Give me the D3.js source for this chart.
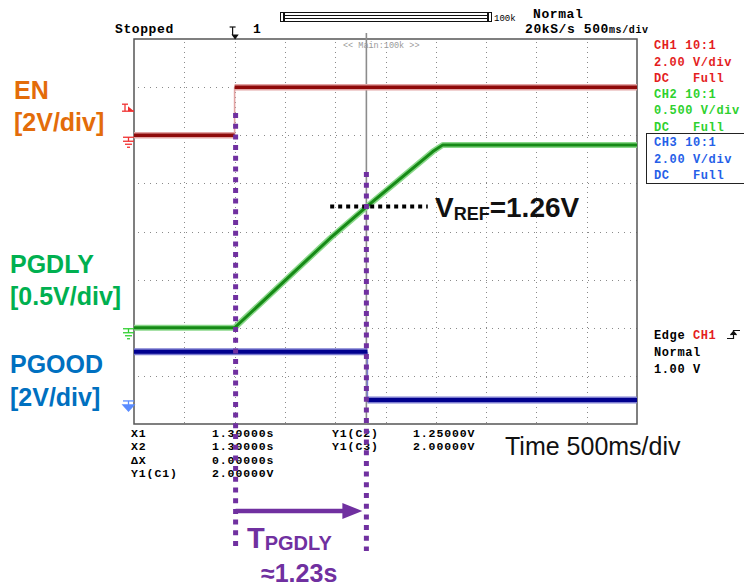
<!DOCTYPE html>
<html>
<head>
<meta charset="utf-8">
<script src="https://cdn.jsdelivr.net/npm/d3@7"></script>
<style>
  html, body { margin: 0; padding: 0; background: #fff; }
  svg { display: block; }
  .mono { font-family: "Liberation Mono", "DejaVu Sans Mono", monospace; font-weight: bold; font-size: 12px; letter-spacing: 0.6px; white-space: pre; }
  .sans { font-family: "Liberation Sans", Arial, sans-serif; }
</style>
</head>
<body>
<svg id="chart" width="744" height="588"></svg>
<script>
// Time base: 500 ms/div, 10 divisions, trigger at 0 s
const timeDomain = [-1.0, 4.0];
const timeGrid = [-0.5, 0.0, 0.5, 1.0, 1.5, 2.0, 2.5, 3.0, 3.5];
const divGrid = [1, 2, 3, 4, 5, 6, 7];

// Channel settings: volts per division and ground offset (in divisions from bottom)
const ch1Scale = 2.0, ch1Offset = 6.0;   // EN
const ch2Scale = 0.5, ch2Offset = 2.0;   // PGDLY
const ch3Scale = 2.0, ch3Offset = 0.5;   // PGOOD

// EN (CH1)
const enTime = [-1.0, 0.0, 0.0, 4.0];
const enVolt = [0.0, 0.0, 2.0, 2.0];
// PGDLY (CH2)
const pgdlyTime = [-1.0, 0.0, 0.95, 1.31, 1.97, 2.07, 4.0];
const pgdlyVolt = [0.0, 0.0, 0.93, 1.255, 1.83, 1.90, 1.90];
// PGOOD (CH3)
const pgoodTime = [-1.0, 1.32, 1.32, 4.0];
const pgoodVolt = [2.0, 2.0, 0.0, 0.0];

// Cursors and annotations
const cursorTimes = [0.01, 1.31];
const vref = 1.26;
const vrefSpan = [0.95, 1.92];
const trigLevel = 1.0;

// Readouts
const chInfo = [
  { lines: ["CH1 10:1", "2.00 V/div", "DC   Full"], color: "#e41e1e" },
  { lines: ["CH2 10:1", "0.500 V/div", "DC   Full"], color: "#2ed12e" },
  { lines: ["CH3 10:1", "2.00 V/div", "DC   Full"], color: "#2560e8" }
];
const cursorRows = [
  ["X1", "1.30000s", "Y1(C2)", "1.25000V"],
  ["X2", "1.30000s", "Y1(C3)", "2.00000V"],
  ["\u0394X", "0.00000s", "", ""],
  ["Y1(C1)", "2.00000V", "", ""]
];

const svg = d3.select("#chart");
const plot = { left: 134, right: 637, top: 39, bottom: 424 };

const x = d3.scaleLinear().domain(timeDomain).range([plot.left, plot.right]);
const y = d3.scaleLinear().domain([0, 8]).range([plot.bottom, plot.top]);
const yCh = (offset, scale) => v => y(offset + v / scale);
const y1 = yCh(ch1Offset, ch1Scale), y2 = yCh(ch2Offset, ch2Scale), y3 = yCh(ch3Offset, ch3Scale);

// Grid
const grid = svg.append("g").attr("stroke", "#8a8a8a").attr("stroke-width", 1);
grid.selectAll("line.v").data(timeGrid).join("line")
  .attr("x1", d => Math.round(x(d)) + 0.5).attr("x2", d => Math.round(x(d)) + 0.5)
  .attr("y1", plot.top + 3).attr("y2", plot.bottom)
  .attr("stroke-dasharray", "1,4");
grid.selectAll("line.h").data(divGrid).join("line")
  .attr("x1", plot.left + 4).attr("x2", plot.right)
  .attr("y1", d => Math.round(y(d)) + 0.5).attr("y2", d => Math.round(y(d)) + 0.5)
  .attr("stroke-dasharray", "1,5");

// Frame
svg.append("rect").attr("x", plot.left).attr("y", plot.top)
  .attr("width", plot.right - plot.left).attr("height", plot.bottom - plot.top)
  .attr("fill", "none").attr("stroke", "#555").attr("stroke-width", 1.5);

// Main-window marker line
svg.append("line").attr("x1", x(cursorTimes[1])).attr("x2", x(cursorTimes[1]))
  .attr("y1", plot.top - 6).attr("y2", plot.bottom)
  .attr("stroke", "#8c8c8c").attr("stroke-width", 1.6);
svg.append("text").attr("x", 343).attr("y", 48).attr("class", "mono")
  .style("font-size", "8.5px").style("font-weight", "normal").style("letter-spacing", "0px")
  .attr("fill", "#9a9a9a").text("<< Main:100k >>");

// Traces: level/ramp runs drawn thick, vertical edges drawn thin
function trace(times, volts, yf, core, halo, w) {
  const pts = times.map((t, i) => [x(t), yf(volts[i])]);
  const runs = [];
  const edges = [];
  let run = [pts[0]];
  for (let i = 1; i < pts.length; i++) {
    if (times[i] === times[i - 1]) {
      edges.push([pts[i - 1], pts[i]]);
      runs.push(run);
      run = [pts[i]];
    } else {
      run.push(pts[i]);
    }
  }
  runs.push(run);
  const line = d3.line();
  edges.forEach(e => {
    svg.append("path").attr("d", line(e)).attr("fill", "none")
      .attr("stroke", halo).attr("stroke-width", 1.6);
  });
  runs.filter(r => r.length > 1).forEach(r => {
    svg.append("path").attr("d", line(r)).attr("fill", "none")
      .attr("stroke", halo).attr("stroke-width", w + 3).attr("stroke-linejoin", "round");
  });
  runs.filter(r => r.length > 1).forEach(r => {
    svg.append("path").attr("d", line(r)).attr("fill", "none")
      .attr("stroke", core).attr("stroke-width", w).attr("stroke-linejoin", "round");
  });
}
trace(enTime, enVolt, y1, "#8f0a0a", "#e2a4a4", 3.5);
trace(pgdlyTime, pgdlyVolt, y2, "#168a16", "#8ad88a", 3);
trace(pgoodTime, pgoodVolt, y3, "#00008f", "#7c7cd0", 4);

// Channel markers on the left edge
function ground(cy, color, filled) {
  const g = svg.append("g").attr("stroke", color).attr("stroke-width", 1.3).attr("fill", "none");
  g.append("line").attr("x1", 123).attr("x2", 134).attr("y1", cy).attr("y2", cy);
  g.append("line").attr("x1", 128.5).attr("x2", 128.5).attr("y1", cy).attr("y2", cy + 4);
  if (filled) {
    g.append("path").attr("d", `M123,${cy + 4}L134,${cy + 4}L128.5,${cy + 10}Z`).attr("fill", color);
  } else {
    g.append("line").attr("x1", 123).attr("x2", 134).attr("y1", cy + 4).attr("y2", cy + 4);
    g.append("line").attr("x1", 125).attr("x2", 132).attr("y1", cy + 7).attr("y2", cy + 7);
    g.append("line").attr("x1", 127).attr("x2", 130).attr("y1", cy + 10).attr("y2", cy + 10);
  }
}
ground(y1(0) + 2, "#f03030", false);
ground(y2(0) + 1, "#30d030", false);
ground(y3(0) + 1, "#5a8cff", true);
// CH1 trigger level marker
{
  const ty = y1(trigLevel);
  const g = svg.append("g").attr("stroke", "#f03030").attr("stroke-width", 1.3);
  g.append("line").attr("x1", 122).attr("x2", 128).attr("y1", ty - 7).attr("y2", ty - 7);
  g.append("line").attr("x1", 125).attr("x2", 125).attr("y1", ty - 7).attr("y2", ty);
  g.append("line").attr("x1", 122).attr("x2", 134).attr("y1", ty).attr("y2", ty);
  g.append("path").attr("d", `M128,${ty - 5}L134,${ty}L128,${ty}Z`).attr("fill", "#f03030").attr("stroke", "none");
}

// Top status bar
svg.append("text").attr("class", "mono").attr("x", 115).attr("y", 33).style("font-size", "13px").text("Stopped");
svg.append("text").attr("class", "mono").attr("x", 253).attr("y", 33).style("font-size", "13px").text("1");
{
  const tx = x(0) - 1;
  const g = svg.append("g").attr("stroke", "#111").attr("stroke-width", 1.2).attr("fill", "none");
  g.append("line").attr("x1", tx - 4).attr("x2", tx + 2).attr("y1", 27).attr("y2", 27);
  g.append("line").attr("x1", tx - 1).attr("x2", tx - 1).attr("y1", 27).attr("y2", 35);
  g.append("path").attr("d", `M${tx - 1},35L${tx + 4},35L${tx + 1.5},38.5Z`).attr("fill", "#111");
}
{
  const g = svg.append("g").attr("stroke", "#111").attr("stroke-width", 1).attr("fill", "none");
  g.append("rect").attr("x", 280.5).attr("y", 12.5).attr("width", 3).attr("height", 9);
  g.append("rect").attr("x", 284.5).attr("y", 12.5).attr("width", 203).attr("height", 9);
  g.append("rect").attr("x", 284.5).attr("y", 15.5).attr("width", 203).attr("height", 3);
  g.append("rect").attr("x", 488.5).attr("y", 12.5).attr("width", 3).attr("height", 9);
}
svg.append("text").attr("class", "mono").attr("x", 494).attr("y", 21)
  .style("font-size", "9px").style("font-weight", "normal").style("letter-spacing", "0px").text("100k");
svg.append("text").attr("class", "mono").attr("x", 533).attr("y", 18).style("font-size", "13px").text("Normal");
{
  const t = svg.append("text").attr("class", "mono").attr("x", 525).attr("y", 33).style("font-size", "13px");
  t.append("tspan").text("20kS/s 500");
  t.append("tspan").style("font-size", "10px").text("ms/div");
}

// Right-hand channel panel
chInfo.forEach((c, i) => {
  c.lines.forEach((s, j) => {
    svg.append("text").attr("class", "mono").attr("x", 654)
      .attr("y", 49 + i * 48.5 + j * 16.5).attr("fill", c.color).text(s);
  });
});
svg.append("rect").attr("x", 646.5).attr("y", 133.5).attr("width", 100).attr("height", 50)
  .attr("fill", "none").attr("stroke", "#222").attr("stroke-width", 1);

// Trigger info
{
  const t = svg.append("text").attr("class", "mono").attr("x", 654).attr("y", 339);
  t.append("tspan").text("Edge ");
  t.append("tspan").attr("fill", "#e41e1e").text("CH1");
  svg.append("text").attr("class", "mono").attr("x", 654).attr("y", 356).text("Normal");
  svg.append("text").attr("class", "mono").attr("x", 654).attr("y", 373).text("1.00 V");
  const g = svg.append("g").attr("stroke", "#111").attr("stroke-width", 1.2).attr("fill", "none");
  g.append("path").attr("d", "M727,338.5L733.5,338.5L733.5,330.5L740,330.5");
  g.append("path").attr("d", "M730.5,335L733.5,331.5L736.5,335").attr("fill", "#111");
}

// Cursor readouts
const colX = [131, 212, 332, 413];
cursorRows.forEach((row, i) => {
  row.forEach((s, j) => {
    if (!s) return;
    svg.append("text").attr("class", "mono").attr("x", colX[j]).attr("y", 437 + i * 13.4)
      .style("font-size", "11.5px").style("letter-spacing", "0.9px").text(s);
  });
});

// Time base label
svg.append("text").attr("class", "sans").attr("x", 505).attr("y", 455)
  .style("font-size", "25px").attr("fill", "#111").text("Time 500ms/div");

// Channel labels
const labels = [
  { t: ["EN", "[2V/div]"], x: 14, y: [99, 131], c: "#e36c0a" },
  { t: ["PGDLY", "[0.5V/div]"], x: 10, y: [273, 305], c: "#00b050" },
  { t: ["PGOOD", "[2V/div]"], x: 10, y: [373, 406], c: "#0070c0" }
];
labels.forEach(l => {
  l.t.forEach((s, j) => {
    svg.append("text").attr("class", "sans").attr("x", l.x).attr("y", l.y[j])
      .style("font-size", "25px").style("font-weight", "bold").attr("fill", l.c).text(s);
  });
});

// VREF marker
svg.append("line").attr("x1", x(vrefSpan[0])).attr("x2", x(vrefSpan[1]))
  .attr("y1", y2(vref)).attr("y2", y2(vref))
  .attr("stroke", "#000").attr("stroke-width", 4).attr("stroke-dasharray", "4,4");
{
  const t = svg.append("text").attr("class", "sans").attr("x", 435).attr("y", 217)
    .style("font-weight", "bold").attr("fill", "#111");
  t.append("tspan").style("font-size", "28px").text("V");
  t.append("tspan").style("font-size", "18px").attr("dy", 3).text("REF");
  t.append("tspan").style("font-size", "28px").attr("dy", -3).text("=1.26V");
}

// Delay cursors
const purple = "#7030a0";
svg.append("line").attr("x1", x(cursorTimes[0])).attr("x2", x(cursorTimes[0]))
  .attr("y1", 113).attr("y2", 551)
  .attr("stroke", purple).attr("stroke-width", 5).attr("stroke-dasharray", "5,5.7");
svg.append("line").attr("x1", x(cursorTimes[1])).attr("x2", x(cursorTimes[1]))
  .attr("y1", 172).attr("y2", 551)
  .attr("stroke", purple).attr("stroke-width", 5).attr("stroke-dasharray", "5,5.7");
svg.append("line").attr("x1", x(cursorTimes[0])).attr("x2", x(cursorTimes[1]) - 22)
  .attr("y1", 511).attr("y2", 511).attr("stroke", purple).attr("stroke-width", 4.5);
svg.append("path")
  .attr("d", `M${x(cursorTimes[1]) - 24},503L${x(cursorTimes[1]) - 4},511L${x(cursorTimes[1]) - 24},519Z`)
  .attr("fill", purple);
{
  const t = svg.append("text").attr("class", "sans").attr("x", 247).attr("y", 548)
    .style("font-weight", "bold").attr("fill", purple);
  t.append("tspan").style("font-size", "29px").text("T");
  t.append("tspan").style("font-size", "20px").attr("dy", 2).text("PGDLY");
}
svg.append("text").attr("class", "sans").attr("x", 261).attr("y", 582)
  .style("font-size", "25px").style("font-weight", "bold").attr("fill", purple).text("\u22481.23s");
</script>
</body>
</html>
